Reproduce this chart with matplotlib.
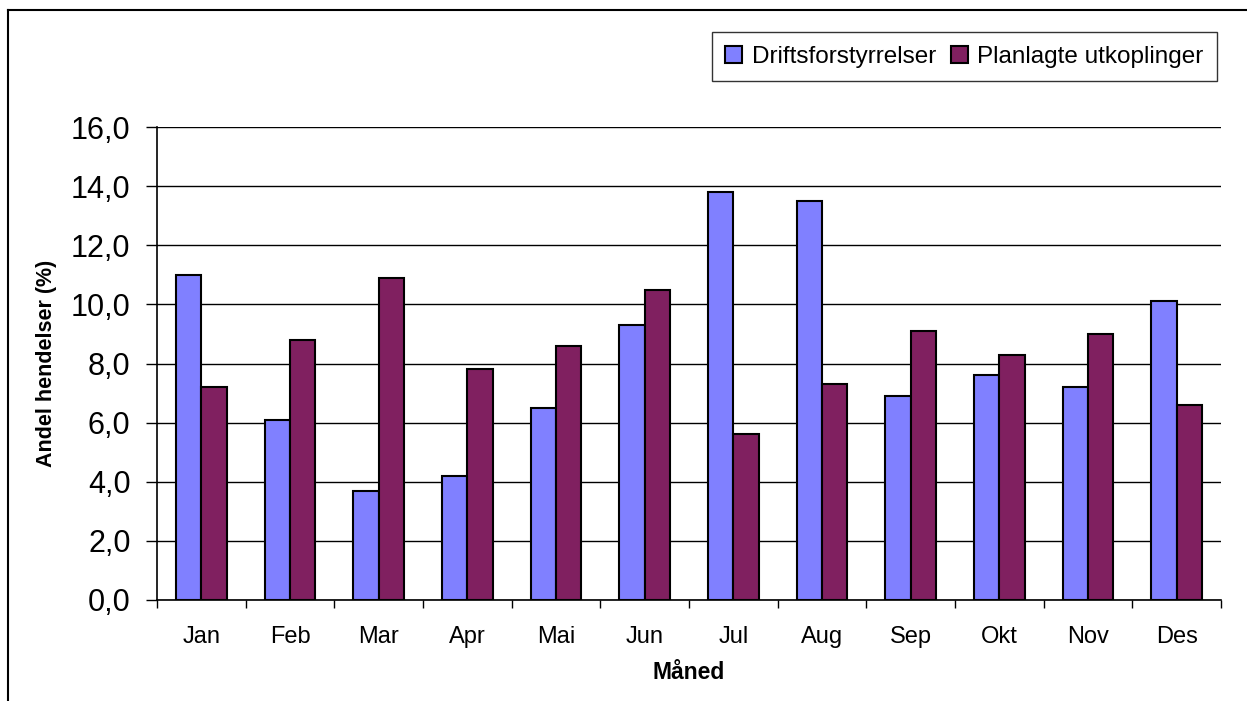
import matplotlib.pyplot as plt
import numpy as np
from matplotlib.lines import Line2D
from matplotlib.ticker import FuncFormatter, MultipleLocator

plt.rcParams["font.family"] = ["Liberation Sans", "DejaVu Sans"]

months = ["Jan", "Feb", "Mar", "Apr", "Mai", "Jun",
          "Jul", "Aug", "Sep", "Okt", "Nov", "Des"]
drift = [11.0, 6.1, 3.7, 4.2, 6.5, 9.3, 13.8, 13.5, 6.9, 7.6, 7.2, 10.1]
planlagt = [7.2, 8.8, 10.9, 7.8, 8.6, 10.5, 5.6, 7.3, 9.1, 8.3, 9.0, 6.6]

fig = plt.figure(figsize=(12.47, 7.01), dpi=100)
ax = fig.add_axes([0.1259, 0.1441, 0.8532, 0.6747])

x = np.arange(len(months))
w = 0.285
ax.bar(x - w / 2, drift, w, color="#8080FF", edgecolor="black",
       linewidth=1.5, label="Driftsforstyrrelser", zorder=3)
ax.bar(x + w / 2, planlagt, w, color="#802060", edgecolor="black",
       linewidth=1.5, label="Planlagte utkoplinger", zorder=3)

ax.set_xlim(-0.5, len(months) - 0.5)
ax.set_ylim(0, 16)
ax.yaxis.set_major_locator(MultipleLocator(2))
ax.yaxis.set_major_formatter(FuncFormatter(lambda v, p: f"{v:.1f}".replace(".", ",")))
ax.grid(axis="y", color="black", linewidth=1.0, zorder=0)

ax.set_xticks(x)
ax.set_xticklabels(months, fontsize=17)
ax.set_xticks(np.arange(-0.5, len(months)), minor=True)
ax.tick_params(axis="x", which="major", length=0, pad=19)
ax.tick_params(axis="x", which="minor", length=6, width=1, direction="out")
ax.tick_params(axis="y", labelsize=22, length=8, width=1, direction="out", pad=11)

for s in ["top", "right"]:
    ax.spines[s].set_visible(False)
for s in ["left", "bottom"]:
    ax.spines[s].set_linewidth(1.2)

ax.set_ylabel("Andel hendelser (%)", fontsize=15.5, fontweight="bold", labelpad=10)
ax.set_xlabel("Måned", fontsize=16.5, fontweight="bold", labelpad=9)

leg = ax.legend(loc="upper right", bbox_to_anchor=(0.976, 0.954),
                bbox_transform=fig.transFigure, fontsize=17.5, frameon=True,
                fancybox=False, edgecolor="black", ncol=2, handlelength=0.7,
                handleheight=0.7, handletextpad=0.4, columnspacing=0.6,
                borderpad=0.55, borderaxespad=0)
leg.get_frame().set_linewidth(1.0)

# outer chart border (top and left)
fig.add_artist(Line2D([8 / 1247, 1.0], [1 - 10 / 701, 1 - 10 / 701],
                      transform=fig.transFigure, color="black", linewidth=1.5))
fig.add_artist(Line2D([8 / 1247, 8 / 1247], [0.0, 1 - 10 / 701],
                      transform=fig.transFigure, color="black", linewidth=1.5))

fig.savefig("out.png", dpi=100)
